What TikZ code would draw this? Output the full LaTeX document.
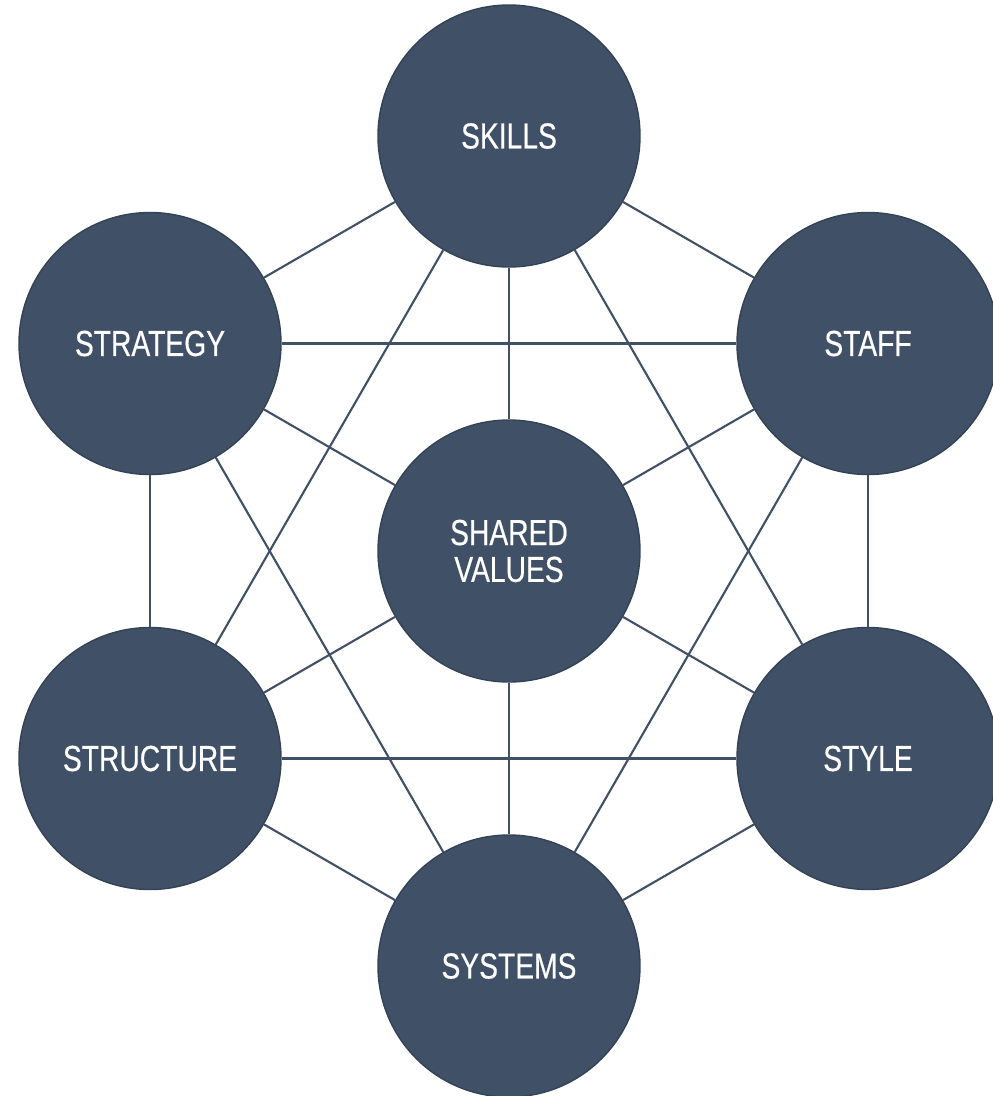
\documentclass[tikz,border=0pt]{standalone}
\usepackage{fontspec}
\setmainfont{Liberation Sans}[FakeStretch=0.78,FakeBold=0.4]
\usepackage{tikz}
\definecolor{slate}{RGB}{64,80,102}
\definecolor{slateedge}{RGB}{52,66,86}

\begin{document}
\begin{tikzpicture}[
  sbox/.style={circle, fill=slate, draw=slateedge, line width=0.4pt, minimum size=2.62cm, inner sep=0pt, text=white, align=center, font=\fontsize{10.3}{10.5}\selectfont},
  link/.style={slate, line width=0.6pt}
]
\useasboundingbox (0,0) rectangle (9.93,-10.96);
% the seven circles
\node[sbox] (shared) at (5.09,-5.51) {SHARED\\VALUES};
\node[sbox] (skills) at (5.09,-1.36) {SKILLS};
\node[sbox] (staff) at (8.68,-3.435) {STAFF};
\node[sbox] (style) at (8.68,-7.585) {STYLE};
\node[sbox] (systems) at (5.09,-9.66) {SYSTEMS};
\node[sbox] (structure) at (1.50,-7.585) {STRUCTURE};
\node[sbox] (strategy) at (1.50,-3.435) {STRATEGY};
% outer ring
\draw[link] (skills) -- (staff);
\draw[link] (staff) -- (style);
\draw[link] (style) -- (systems);
\draw[link] (systems) -- (structure);
\draw[link] (structure) -- (strategy);
\draw[link] (strategy) -- (skills);
% the two triangles
\draw[link] (skills) -- (style);
\draw[link] (style) -- (structure);
\draw[link] (structure) -- (skills);
\draw[link] (strategy) -- (staff);
\draw[link] (staff) -- (systems);
\draw[link] (systems) -- (strategy);
% spokes to the centre
\foreach \n in {skills,staff,style,systems,structure,strategy}
  \draw[link] (shared) -- (\n);
\end{tikzpicture}
\end{document}
